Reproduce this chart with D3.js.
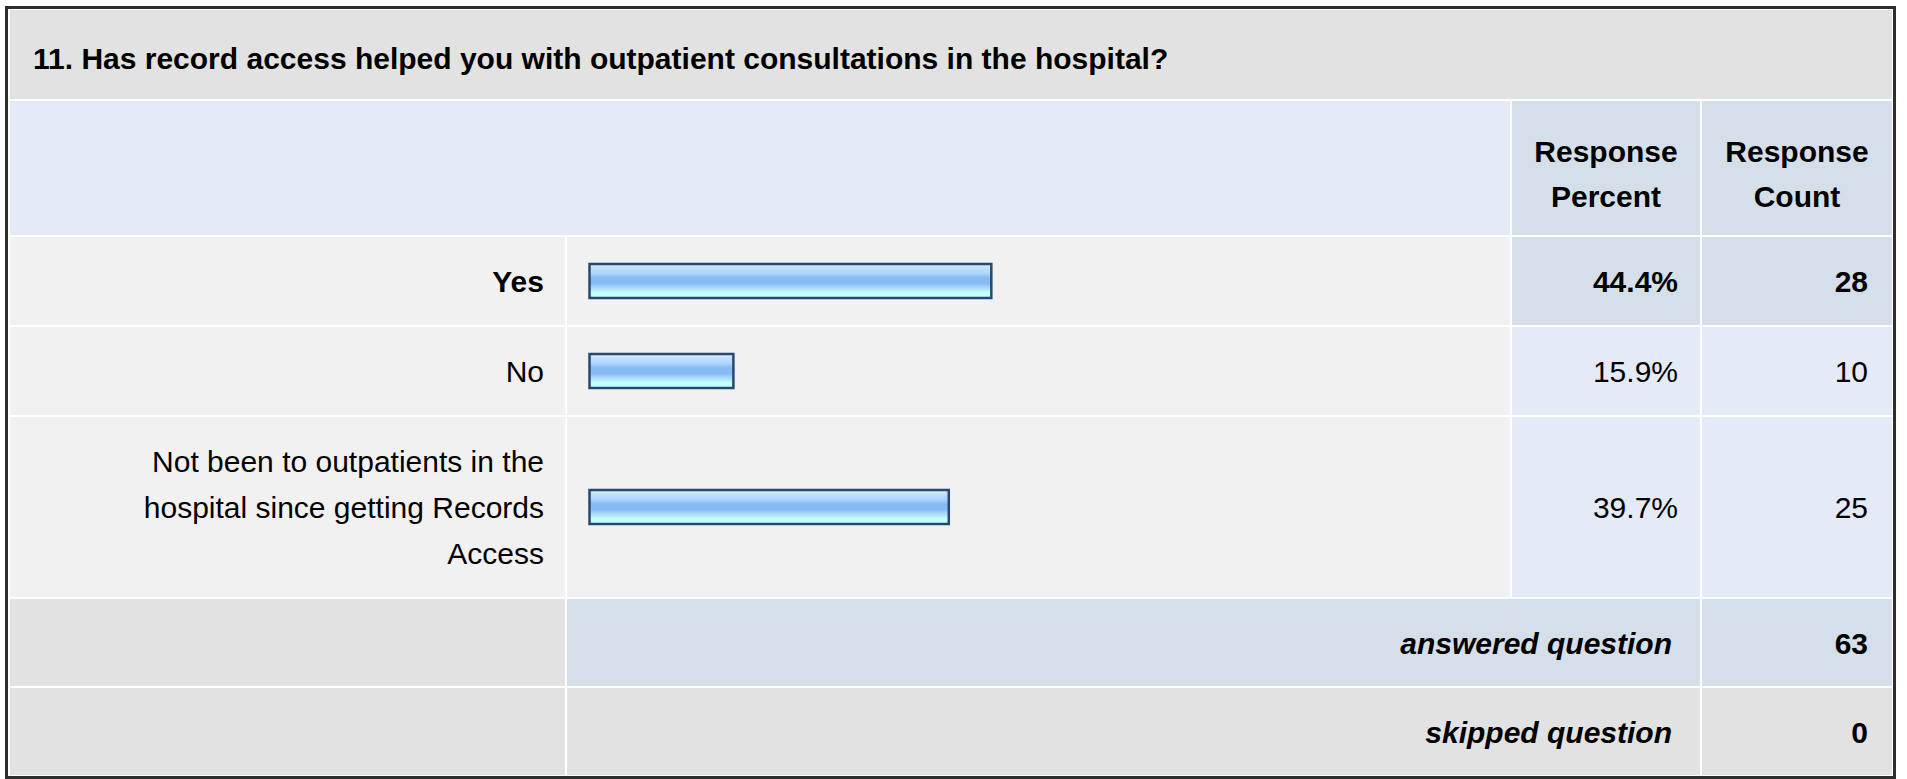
<!DOCTYPE html>
<html>
<head>
<meta charset="utf-8">
<script src="https://cdn.jsdelivr.net/npm/d3@7"></script>
<style>
  html, body { margin: 0; padding: 0; background: #ffffff; }
  svg { display: block; }
  text { font-family: "Liberation Sans", Arial, Helvetica, sans-serif; fill: #000; }
</style>
</head>
<body>
<svg id="chart"></svg>
<script>
// Survey question and its answer options
const question = "11. Has record access helped you with outpatient consultations in the hospital?";
const answers = ["Yes", "No", "Not been to outpatients in the hospital since getting Records Access"];
const percents = [44.4, 15.9, 39.7];
const counts = [28, 10, 25];
const highlighted = [true, false, false];
const headerPercent = ["Response", "Percent"];
const headerCount = ["Response", "Count"];
const summaryLabels = ["answered question", "skipped question"];
const summaryValues = [63, 0];

const W = 1907, H = 779;
const svg = d3.select("#chart").attr("width", W).attr("height", H);

// Column edges: label | bar | percent | count (2px white spacing between cells)
const col = { label: [10, 565], bar: [567, 1510], pct: [1512, 1700], cnt: [1702, 1892] };
// Row edges
const rowTitle = [10, 99], rowHead = [101, 235];
const answerRows = [[237, 325], [327, 415], [417, 597]];
const summaryRows = [[599, 686], [688, 775]];

const C = {
  gray: "#e2e2e2", light: "#f1f1f1", blueHead: "#e4ebf6", blueDark: "#d5dfe9", blueLight: "#e4ebf6"
};
const FS = 30;

function cell(x, y, fill) {
  svg.append("rect").attr("x", x[0]).attr("y", y[0])
    .attr("width", x[1] - x[0]).attr("height", y[1] - y[0]).attr("fill", fill);
}

// Bar gradient
const defs = svg.append("defs");
const grad = defs.append("linearGradient").attr("id", "barGrad")
  .attr("x1", 0).attr("y1", 0).attr("x2", 0).attr("y2", 1);
[[0, "#dff0ff"], [0.1, "#c4e3ff"], [0.28, "#acd5fd"], [0.4, "#88bdf4"], [0.58, "#86bcf3"],
 [0.66, "#a2cffb"], [0.76, "#b6e8ff"], [0.84, "#c2ffff"], [1, "#c2ffff"]]
  .forEach(([o, c]) => grad.append("stop").attr("offset", o).attr("stop-color", c));

// Title row
cell([col.label[0], col.cnt[1]], rowTitle, C.gray);
svg.append("text").attr("x", 33).attr("y", 69)
  .attr("font-size", FS).attr("font-weight", "bold").text(question);

// Header row
cell([col.label[0], col.bar[1]], rowHead, C.blueHead);
cell(col.pct, rowHead, C.blueDark);
cell(col.cnt, rowHead, C.blueDark);
[[col.pct, headerPercent], [col.cnt, headerCount]].forEach(([c, lines]) => {
  const t = svg.append("text").attr("text-anchor", "middle")
    .attr("font-size", FS).attr("font-weight", "bold");
  lines.forEach((l, i) => t.append("tspan").attr("x", (c[0] + c[1]) / 2)
    .attr("y", 162 + i * 45).text(l));
});

// Bar scale
const x = d3.scaleLinear().domain([0, 100]).range([0, 905]);
const barX0 = col.bar[0] + 22.5;
const barH = 34;
const lineH = 46;
const labelRight = col.label[1] - 21;
const maxLabelW = 440;

// Wrap a label into lines that fit the label column
function wrap(str, weight) {
  const probe = svg.append("text").attr("font-size", FS).attr("font-weight", weight);
  const words = str.split(" ");
  const lines = [];
  let cur = "";
  words.forEach(w => {
    const test = cur ? cur + " " + w : w;
    probe.text(test);
    if (probe.node().getComputedTextLength() > maxLabelW && cur) {
      lines.push(cur); cur = w;
    } else cur = test;
  });
  lines.push(cur);
  probe.remove();
  return lines;
}

answers.forEach((a, i) => {
  const r = answerRows[i];
  const cy = (r[0] + r[1]) / 2;
  const weight = highlighted[i] ? "bold" : "normal";
  const valFill = highlighted[i] ? C.blueDark : C.blueLight;
  cell(col.label, r, C.light);
  cell(col.bar, r, C.light);
  cell(col.pct, r, valFill);
  cell(col.cnt, r, valFill);

  const lines = wrap(a, weight);
  const t = svg.append("text").attr("text-anchor", "end")
    .attr("font-size", FS).attr("font-weight", weight);
  const base = cy + 11 - (lines.length - 1) * lineH / 2;
  lines.forEach((l, j) => t.append("tspan").attr("x", labelRight)
    .attr("y", base + j * lineH).text(l));

  svg.append("rect").attr("x", barX0).attr("y", cy - barH / 2)
    .attr("width", x(percents[i])).attr("height", barH)
    .attr("fill", "url(#barGrad)").attr("stroke", "#274870").attr("stroke-width", 2.5);

  svg.append("text").attr("x", col.pct[1] - 22).attr("y", cy + 11)
    .attr("text-anchor", "end").attr("font-size", FS).attr("font-weight", weight)
    .text(percents[i].toFixed(1) + "%");
  svg.append("text").attr("x", col.cnt[1] - 24).attr("y", cy + 11)
    .attr("text-anchor", "end").attr("font-size", FS).attr("font-weight", weight)
    .text(counts[i]);
});

// Summary rows
summaryLabels.forEach((s, i) => {
  const r = summaryRows[i];
  const cy = (r[0] + r[1]) / 2;
  const fill = i === 0 ? C.blueDark : C.gray;
  cell(col.label, r, C.gray);
  cell([col.bar[0], col.pct[1]], r, fill);
  cell(col.cnt, r, fill);
  svg.append("text").attr("x", col.pct[1] - 28).attr("y", cy + 11)
    .attr("text-anchor", "end").attr("font-size", FS)
    .attr("font-weight", "bold").attr("font-style", "italic").text(s);
  svg.append("text").attr("x", col.cnt[1] - 24).attr("y", cy + 11)
    .attr("text-anchor", "end").attr("font-size", FS)
    .attr("font-weight", "bold").text(summaryValues[i]);
});

// Outer frame
svg.append("rect").attr("x", 6.5).attr("y", 7.5).attr("width", 1888).attr("height", 770)
  .attr("fill", "none").attr("stroke", "#2e2e2e").attr("stroke-width", 3);
</script>
</body>
</html>
